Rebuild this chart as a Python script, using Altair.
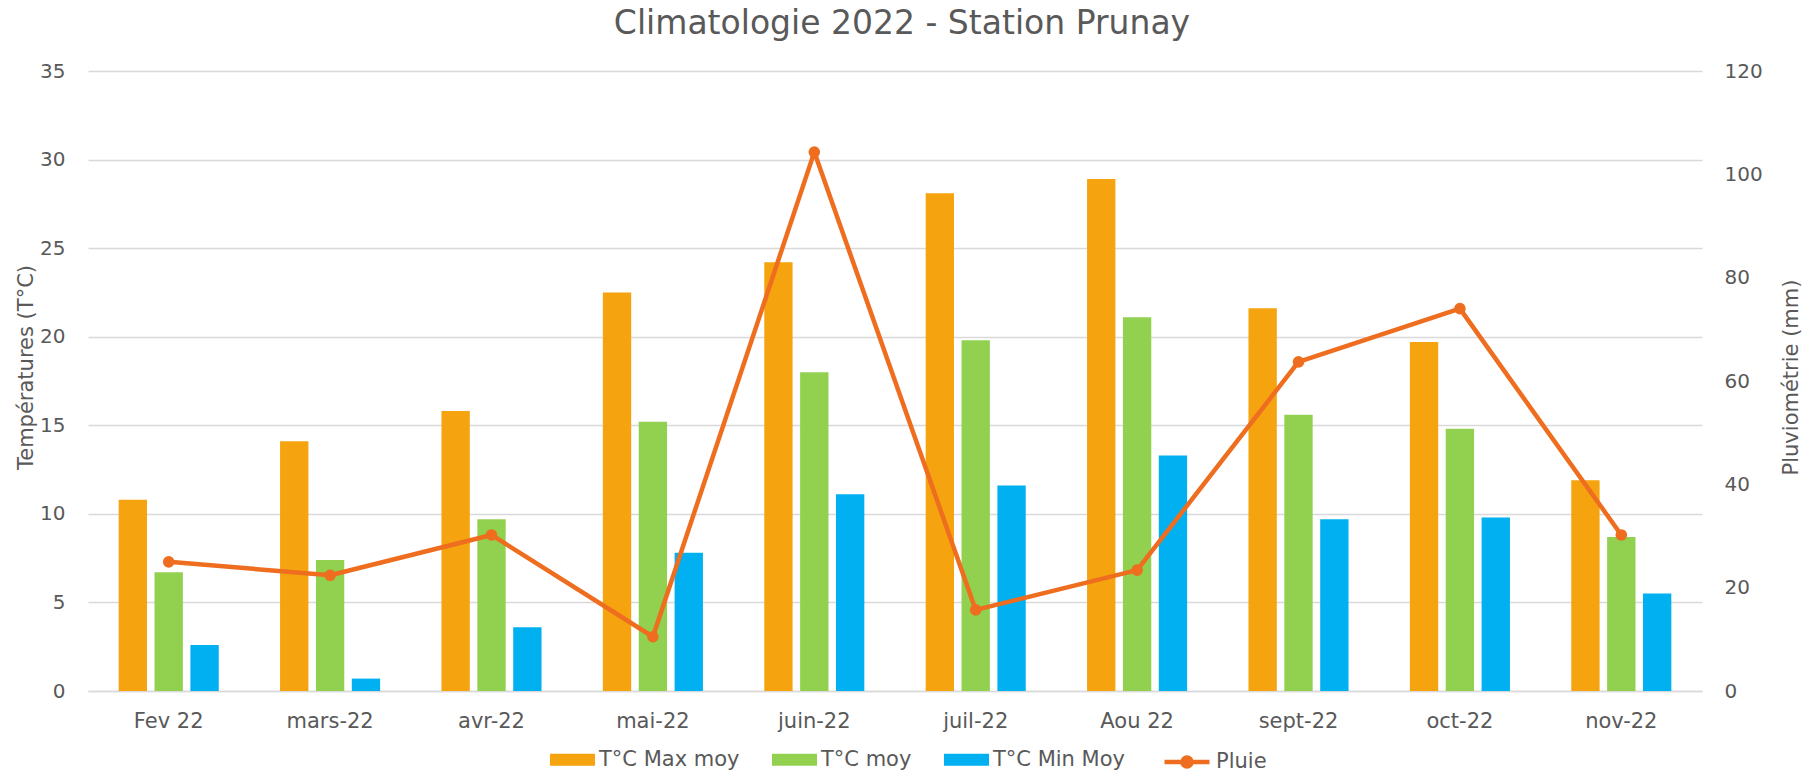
import altair as alt
import pandas as pd

months = ["Fev 22", "mars-22", "avr-22", "mai-22", "juin-22", "juil-22", "Aou 22", "sept-22", "oct-22", "nov-22"]
series = ["T°C Max moy", "T°C moy", "T°C Min Moy"]
t_max = [10.8, 14.1, 15.8, 22.5, 24.2, 28.1, 28.9, 21.6, 19.7, 11.9]
t_moy = [6.7, 7.4, 9.7, 15.2, 18.0, 19.8, 21.1, 15.6, 14.8, 8.7]
t_min = [2.6, 0.7, 3.6, 7.8, 11.1, 11.6, 13.3, 9.7, 9.8, 5.5]
pluie = [25.0, 22.4, 30.2, 10.5, 104.3, 15.7, 23.4, 63.7, 74.0, 30.2]
temp_ticks = [0, 5, 10, 15, 20, 25, 30, 35]
rain_ticks = [0, 20, 40, 60, 80, 100, 120]

bar_colors = ["#F5A30F", "#92D050", "#00B0F0"]
rain_color = "#EE6D1F"
text_color = "#595959"
FONT = "DejaVu Sans"

rows = []
for s, vals in zip(series, [t_max, t_moy, t_min]):
    for m, v in zip(months, vals):
        rows.append({"mois": m, "serie": s, "temp": v})
df_t = pd.DataFrame(rows)
df_p = pd.DataFrame({"mois": months, "pluie": pluie, "serie": ["Pluie"] * len(months)})

x_scale = alt.Scale(domain=months, paddingInner=0.38, paddingOuter=0.19)
x_axis = alt.Axis(title=None, labelAngle=0, ticks=False, tickSize=0, labelPadding=19,
                  domain=True, domainColor="#D9D9D9", domainWidth=1.3, grid=False,
                  labelFontSize=21)

rect_path = "M-1,-0.27L1,-0.27L1,0.27L-1,0.27Z"
line_dot_path = ("M-1,0L1,0"
                 "M0.2,0A0.2,0.2 0 1,0 -0.2,0A0.2,0.2 0 1,0 0.2,0"
                 "M0.05,0A0.05,0.05 0 1,0 -0.05,0A0.05,0.05 0 1,0 0.05,0")

bars = alt.Chart(df_t).mark_bar().encode(
    x=alt.X("mois:N", sort=months, scale=x_scale, axis=x_axis),
    xOffset=alt.XOffset("serie:N", sort=series, scale=alt.Scale(domain=series, paddingInner=0.21, paddingOuter=0)),
    y=alt.Y("temp:Q", scale=alt.Scale(domain=[0, 35], nice=False),
            axis=alt.Axis(title="Températures (T°C)", values=temp_ticks, grid=True,
                          gridColor="#D9D9D9", gridWidth=1.3, domain=False, ticks=False,
                          tickSize=0, labelPadding=23, titleX=-56, titleY=296, titleAngle=270,
                          titleBaseline="alphabetic", titleAlign="center")),
    color=alt.Color("serie:N", sort=series, scale=alt.Scale(domain=series, range=bar_colors),
                    legend=alt.Legend(title=None, orient="none", legendX=462, legendY=666,
                                      direction="horizontal", symbolType=rect_path,
                                      symbolSize=2025, symbolStrokeWidth=0, labelOffset=4,
                                      columnPadding=32, padding=0, labelFontSize=21,
                                      labelColor=text_color, labelFont=FONT)),
)

line = alt.Chart(df_p).mark_line(strokeWidth=4.5, strokeJoin="round", strokeCap="round").encode(
    x=alt.X("mois:N", sort=months, scale=x_scale, axis=x_axis),
    y=alt.Y("pluie:Q", scale=alt.Scale(domain=[0, 120], nice=False),
            axis=alt.Axis(title="Pluviométrie (mm)", orient="right", values=rain_ticks,
                          grid=False, domain=False, ticks=False, tickSize=0, labelPadding=22,
                          titleX=95, titleY=306, titleAngle=270, titleBaseline="alphabetic",
                          titleAlign="center")),
    stroke=alt.Stroke("serie:N", scale=alt.Scale(domain=["Pluie"], range=[rain_color]),
                      legend=alt.Legend(title=None, orient="none", legendX=1074, legendY=666,
                                        direction="horizontal", symbolType=line_dot_path,
                                        symbolSize=2025, symbolStrokeWidth=4.5,
                                        symbolStrokeColor=rain_color, labelOffset=4, padding=0,
                                        labelFontSize=21, labelColor=text_color,
                                        labelFont=FONT)),
)

pts = alt.Chart(df_p).mark_circle(size=135, opacity=1, color=rain_color).encode(
    x=alt.X("mois:N", sort=months, scale=x_scale, axis=x_axis),
    y=alt.Y("pluie:Q", scale=alt.Scale(domain=[0, 120], nice=False)),
)

chart = alt.layer(bars, alt.layer(line, pts)).resolve_scale(y="independent").properties(
    width=1614,
    height=620,
    padding={"left": 80, "top": 63, "right": 101, "bottom": 81},
    autosize=alt.AutoSizeParams(type="none"),
    background="white",
    title=alt.Title("Climatologie 2022 - Station Prunay", fontSize=33, font=FONT,
                    fontWeight="normal", color=text_color, anchor="middle", dx=7, offset=20),
).configure_view(stroke=None).configure_axis(
    labelFont=FONT, labelColor=text_color, labelFontSize=20,
    titleFont=FONT, titleColor=text_color, titleFontSize=21, titleFontWeight="normal",
)

chart.save("out.html", embed_options={"renderer": "svg", "actions": False})
